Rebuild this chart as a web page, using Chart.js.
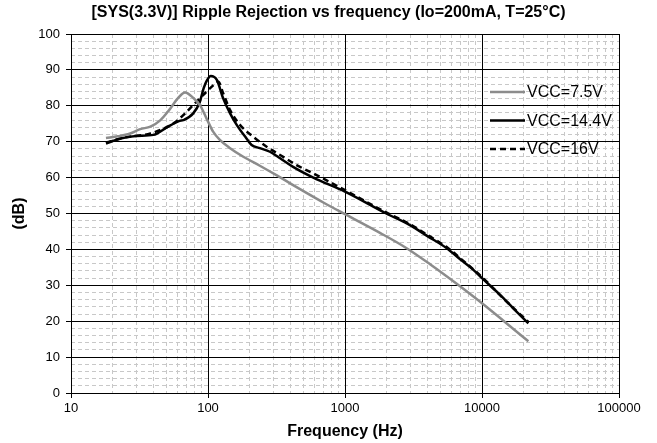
<!DOCTYPE html>
<html lang="en">
<head>
    <meta charset="UTF-8">
    <title>Ripple Rejection vs frequency</title>
    <script src="https://cdn.jsdelivr.net/npm/chart.js"></script>
    <style>
        html, body { margin: 0; padding: 0; background: #fff; }
        #wrap { width: 657px; height: 443px; }
    </style>
</head>
<body>
    <div id="wrap"><canvas id="mychart"></canvas></div>
    <script>
        // values (Hz / dB)
        const freq75 = [18, 22, 27, 32, 38, 45, 52, 60, 68, 78, 88, 98, 109, 122, 145, 181, 239, 318, 398, 494, 700, 1000, 1800, 2800, 4200, 6500, 10000, 15000, 21800];
        const db75 = [71.0, 71.5, 72.3, 73.5, 74.2, 76.0, 78.8, 82.0, 83.7, 82.2, 80.0, 76.3, 72.8, 70.5, 68.2, 65.8, 63.3, 60.6, 58.4, 56.3, 53.0, 49.8, 44.6, 40.4, 35.8, 30.5, 25.0, 19.5, 14.4];

        const freq144 = [18, 23, 30, 40, 50, 62, 66, 78, 87, 93, 98, 105, 116, 129, 145, 162, 191, 208, 239, 283, 336, 418, 587, 1000, 2000, 3000, 4000, 5500, 7000, 8650, 10000, 13500, 16900, 21800];
        const db144 = [69.5, 70.9, 71.6, 71.9, 74.0, 75.8, 76.0, 77.9, 81.0, 84.9, 87.0, 88.3, 87.2, 82.1, 77.9, 74.7, 70.9, 69.1, 68.2, 67.2, 65.4, 63.0, 60.0, 56.1, 50.0, 46.7, 43.7, 40.4, 37.1, 34.3, 32.0, 27.4, 23.6, 19.4];

        const freq16 = [18, 25, 38, 56, 66, 78, 98, 110, 119, 129, 145, 171, 214, 268, 336, 443, 620, 1000, 2000, 3000, 4000, 5500, 7000, 10000, 15000, 21800];
        const db16 = [69.8, 71.2, 72.3, 75.1, 77.4, 80.2, 84.0, 85.8, 86.7, 83.5, 78.8, 74.7, 71.4, 68.6, 66.3, 63.5, 60.7, 56.5, 50.3, 47.0, 44.0, 40.7, 37.4, 32.3, 25.6, 19.8];

        const seriesNames = ['VCC=7.5V', 'VCC=14.4V', 'VCC=16V'];
        const xTicks = [10, 100, 1000, 10000, 100000];
        const yTicks = [0, 10, 20, 30, 40, 50, 60, 70, 80, 90, 100];

        const FONT = "'Liberation Sans', Arial, sans-serif";

        function pts(fs, ds) {
            return fs.map((f, i) => ({ x: f, y: ds[i] }));
        }

        // minor log gridlines: 1..9 x each decade
        const xMinor = [];
        for (let d = 0; d < xTicks.length - 1; d++) {
            for (let m = 1; m <= 9; m++) xMinor.push(xTicks[d] * m);
        }
        xMinor.push(xTicks[xTicks.length - 1]);

        const legendPlugin = {
            id: 'sideLegend',
            afterDatasetsDraw(chart) {
                const ctx = chart.ctx;
                const a = chart.chartArea;
                ctx.save();
                ctx.font = '16px ' + FONT;
                ctx.fillStyle = '#000';
                ctx.textBaseline = 'middle';
                chart.data.datasets.forEach((ds, i) => {
                    const y = a.top + 58 + i * 28.5;
                    const x0 = a.right - 129;
                    ctx.strokeStyle = ds.borderColor;
                    ctx.lineWidth = ds.borderWidth;
                    ctx.setLineDash(ds.borderDash || []);
                    ctx.beginPath();
                    ctx.moveTo(x0, y);
                    ctx.lineTo(x0 + 35, y);
                    ctx.stroke();
                    ctx.setLineDash([]);
                    ctx.fillText(ds.label, x0 + 37, y + 1);
                });
                ctx.restore();
            }
        };

        const chart = new Chart(document.querySelector('#mychart'), {
            type: 'line',
            data: {
                datasets: [
                    {
                        label: seriesNames[0],
                        data: pts(freq75, db75),
                        borderColor: '#8c8c8c',
                        borderWidth: 2.5
                    },
                    {
                        label: seriesNames[1],
                        data: pts(freq144, db144),
                        borderColor: '#000000',
                        borderWidth: 2.5
                    },
                    {
                        label: seriesNames[2],
                        data: pts(freq16, db16),
                        borderColor: '#000000',
                        borderWidth: 2.5,
                        borderDash: [6, 4]
                    }
                ]
            },
            options: {
                responsive: true,
                maintainAspectRatio: false,
                animation: false,
                devicePixelRatio: 1,
                elements: {
                    point: { radius: 0 },
                    line: { cubicInterpolationMode: 'monotone', fill: false }
                },
                layout: { padding: 0 },
                plugins: {
                    legend: { display: false },
                    tooltip: { enabled: false },
                    title: {
                        display: true,
                        text: '[SYS(3.3V)] Ripple Rejection vs frequency (Io=200mA, T=25°C)',
                        color: '#000',
                        font: { family: FONT, size: 16, weight: 'bold' },
                        padding: { top: 3, bottom: 11.8 }
                    }
                },
                scales: {
                    xMinor: {
                        type: 'logarithmic',
                        position: 'bottom',
                        min: 10,
                        max: 100000,
                        afterBuildTicks: s => { s.ticks = xMinor.map(v => ({ value: v })); },
                        afterFit: s => { s.height = 0; },
                        ticks: { display: false },
                        grid: { color: '#c8c8c8', lineWidth: 1, drawTicks: false, z: -1 },
                        border: { display: false, dash: [4, 3] }
                    },
                    yMinor: {
                        type: 'linear',
                        position: 'left',
                        min: 0,
                        max: 100,
                        ticks: { display: false, stepSize: 2 },
                        afterFit: s => { s.width = 0; },
                        grid: { color: '#c8c8c8', lineWidth: 1, drawTicks: false, z: -1 },
                        border: { display: false, dash: [4, 3] }
                    },
                    // top and right edges of the plot box
                    xTop: {
                        type: 'logarithmic',
                        position: 'top',
                        min: 10,
                        max: 100000,
                        afterFit: s => { s.height = 0; },
                        ticks: { display: false },
                        grid: { drawOnChartArea: false, drawTicks: false },
                        border: { display: true, color: '#000', width: 1 }
                    },
                    yRight: {
                        type: 'linear',
                        position: 'right',
                        min: 0,
                        max: 100,
                        afterFit: s => { s.width = 38; },
                        ticks: { display: false },
                        grid: { drawOnChartArea: false, drawTicks: false },
                        border: { display: true, color: '#000', width: 1 }
                    },
                    x: {
                        type: 'logarithmic',
                        position: 'bottom',
                        min: 10,
                        max: 100000,
                        afterBuildTicks: s => { s.ticks = xTicks.map(v => ({ value: v })); },
                        afterFit: s => { s.height = 50; },
                        ticks: {
                            color: '#000',
                            font: { family: FONT, size: 13 },
                            padding: 3,
                            maxRotation: 0,
                            callback: v => String(v)
                        },
                        grid: { color: '#000', lineWidth: 1, tickLength: 5, tickColor: '#000' },
                        border: { color: '#000', width: 1 },
                        title: {
                            display: true,
                            text: 'Frequency (Hz)',
                            color: '#000',
                            font: { family: FONT, size: 16, weight: 'bold' },
                            padding: { top: 0, bottom: 1.4 }
                        }
                    },
                    y: {
                        type: 'linear',
                        position: 'left',
                        min: 0,
                        max: 100,
                        afterBuildTicks: s => { s.ticks = yTicks.map(v => ({ value: v })); },
                        afterFit: s => { s.width = 71; },
                        ticks: {
                            color: '#000',
                            font: { family: FONT, size: 13 },
                            padding: 6
                        },
                        grid: { color: '#000', lineWidth: 1, tickLength: 5, tickColor: '#000' },
                        border: { color: '#000', width: 1 },
                        title: {
                            display: true,
                            text: '(dB)',
                            color: '#000',
                            font: { family: FONT, size: 16, weight: 'bold' },
                            padding: { top: 10.4, bottom: 0 }
                        }
                    }
                }
            },
            plugins: [legendPlugin]
        });
    </script>
</body>
</html>
